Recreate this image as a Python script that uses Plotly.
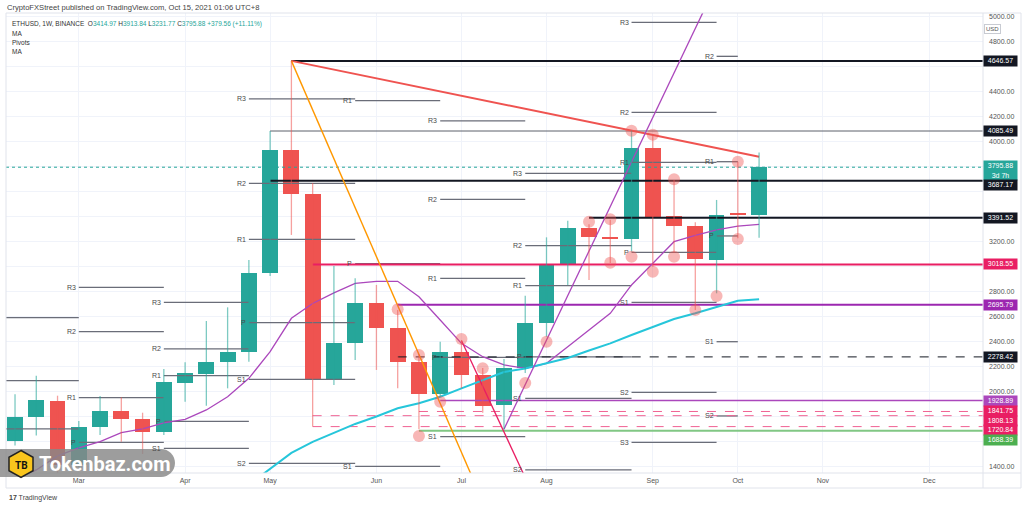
import plotly.graph_objects as go
import pandas as pd

# ------------------------------------------------------------------ data
candle_dates = pd.date_range("2021-02-08", periods=36, freq="7D")
opens = [1608, 1795, 1928, 1416, 1720, 1846, 1779, 1680, 2072, 2142, 2235, 2320,
         2947, 3934, 3582, 2094, 2387, 2712, 2507, 2240, 1982, 2320, 2134, 1894,
         2187, 2552, 3014, 3312, 3240, 3222, 3953, 3406, 3328, 3056, 3419, 3414.97]
highs = [1979, 2128, 1968, 1766, 1966, 1955, 1832, 2182, 2235, 2566, 2675, 3054,
         4086, 4646.57, 3670, 3006, 2907, 2854, 2654, 2300, 2400, 2410, 2190, 2262,
         2768, 3235, 3368, 3340, 3375, 4090, 4060, 3693, 3355, 3534, 3840, 3913.84]
lows = [1570, 1650, 1300, 1400, 1654, 1600, 1502, 1654, 1920, 1888, 2027, 2240,
        2926, 3254, 1720.84, 2054, 2254, 2174, 2027, 1700, 1960, 2027, 1832, 1700,
        2150, 2440, 2854, 2894, 3030, 3120, 3000, 3112, 2654, 2787, 3227, 3231.77]
closes = [1800, 1933, 1416, 1720, 1846, 1779, 1680, 2075, 2147, 2240, 2320, 2947,
          3934, 3582, 2094, 2387, 2712, 2507, 2240, 1982, 2320, 2134, 1888, 2187,
          2552, 3014, 3312, 3240, 3222, 3953, 3400, 3328, 3062, 3416, 3414.97, 3795.88]

ma_purple = [1290, 1374, 1486, 1550, 1600, 1672, 1702, 1750, 1779, 1854, 1960, 2107,
             2320, 2587, 2706, 2790, 2867, 2883, 2883, 2760, 2574, 2387, 2280, 2214,
             2186, 2227, 2360, 2494, 2627, 2854, 3027, 3200, 3250, 3294, 3325, 3339]
ma_cyan = [None] * 11 + [1256, 1385, 1510, 1598, 1670, 1742, 1802, 1867, 1907, 1960,
                         2027, 2094, 2158, 2186, 2226, 2270, 2330, 2387, 2454, 2520,
                         2582, 2627, 2675, 2728, 2739]

mark_dates = ["2021-06-14", "2021-06-21", "2021-06-21", "2021-06-28", "2021-07-05",
              "2021-07-12", "2021-07-26", "2021-08-02", "2021-08-16", "2021-08-23",
              "2021-08-23", "2021-08-30", "2021-08-30", "2021-09-06", "2021-09-06",
              "2021-09-13", "2021-09-13", "2021-09-20", "2021-09-27", "2021-10-04",
              "2021-10-04"]
mark_prices = [2659, 2294, 1646, 1920, 2422, 2187, 2070, 2400, 3360, 3379, 3032,
               4088, 3080, 4056, 2960, 3699, 3080, 2654, 2766, 3840, 3222]

# monthly pivot periods
pivot_starts = ["2021-02-01", "2021-03-01", "2021-03-29", "2021-04-26", "2021-05-31",
                "2021-06-28", "2021-07-26", "2021-08-30", "2021-09-27"]
pivot_ends = ["2021-03-01", "2021-03-29", "2021-04-26", "2021-05-31", "2021-06-28",
              "2021-07-26", "2021-08-30", "2021-09-27", "2021-10-04"]
pivot_R3 = [None, 2835, 2715, 4342, None, 4166, 3747, 4955, None]
pivot_R2 = [2592, 2480, 2342, 3667, None, 3539, 3168, 4235, 4683]
pivot_R1 = [2088, 1952, 2128, 3219, 4328, 2907, 2848, 3835, 3840]
pivot_P = [1702, 1595, 1763, 2552, 3024, 2275, 2278, 3115, 3246]
pivot_S1 = [None, None, 1547, 2099, 1402, 1640, 1947, 2715, 2400]
pivot_S2 = [None, None, None, 1427, None, None, 1374, 1995, 1806]
pivot_S3 = [None, None, None, None, None, None, None, 1595, None]

# horizontal drawn levels
level_values = [4646.57, 4085.49, 3687.17, 3391.52, 3018.55, 2695.79, 2278.42,
                1928.89, 1841.75, 1808.13, 1720.84, 1688.39]
level_starts = ["2021-05-10", "2021-05-03", "2021-05-03", "2021-08-16", "2021-05-17",
                "2021-06-14", "2021-06-14", "2021-06-28", "2021-06-21", "2021-05-17",
                "2021-05-17", "2021-06-21"]
level_colors = ["#131722", "#5d606b", "#131722", "#131722", "#e91e63", "#9c27b0",
                "#131722", "#ab47bc", "#f06292", "#f06292", "#f06292", "#81c784"]
level_widths = [2, 1, 2, 2, 2, 2, 1, 1.5, 1, 1, 1, 2]
level_dash = ["solid", "solid", "solid", "solid", "solid", "solid", "dash",
              "solid", "dash", "dash", "dash", "solid"]
label_colors = ["#131722", "#131722", "#131722", "#131722", "#e91e63", "#9c27b0",
                "#131722", "#ab47bc", "#e91e63", "#e91e63", "#e91e63", "#4caf50"]

# trend lines (anchor points)
trend_red_x, trend_red_y = ["2021-05-10", "2021-10-11"], [4646.57, 3880]
trend_orange_x, trend_orange_y = ["2021-05-10", "2021-07-10"], [4646.57, 1235]
trend_purple_x, trend_purple_y = ["2021-07-19", "2021-09-23"], [1700, 5059]
trend_pink_x, trend_pink_y = ["2021-07-05", "2021-07-26"], [2410, 1312]

last_price = 3795.88
month_ticks = ["2021-03-01", "2021-04-05", "2021-05-03", "2021-06-07", "2021-07-05",
               "2021-08-02", "2021-09-06", "2021-10-04", "2021-11-01", "2021-12-06"]
month_names = ["Mar", "Apr", "May", "Jun", "Jul", "Aug", "Sep", "Oct", "Nov", "Dec"]
price_ticks = list(range(1400, 5001, 200))

# ------------------------------------------------------------------ geometry
W, H = 1024, 508
PL, PR, PT, PB = 6, 983, 13, 473
Y0, Y1 = 1349.6, 5029.6
anchor = pd.Timestamp("2021-03-01")
px_per_day = 3.037
X0 = anchor - pd.Timedelta(days=(78.8 - PL) / px_per_day)
X1 = anchor + pd.Timedelta(days=(PR - 78.8) / px_per_day)


def pxx(x):
    return (x - PL) / (PR - PL)


def pxy(y):
    return (PB - y) / (PB - PT)


def price_to_px(p):
    return PT + (Y1 - p) / (Y1 - Y0) * (PB - PT)


UP, DOWN = "#26a69a", "#ef5350"
FONT = "Liberation Sans"

fig = go.Figure()

# pivot lines
px_, py_, lab = [], [], []
for name, arr in [("R3", pivot_R3), ("R2", pivot_R2), ("R1", pivot_R1), ("P", pivot_P),
                  ("S1", pivot_S1), ("S2", pivot_S2), ("S3", pivot_S3)]:
    for s, e, v in zip(pivot_starts, pivot_ends, arr):
        if v is None:
            continue
        px_ += [s, e, None]
        py_ += [v, v, None]
        if pd.Timestamp(s) > X0:
            lab.append((s, v, name))
fig.add_trace(go.Scatter(x=px_, y=py_, mode="lines",
                         line=dict(color="#6a6d78", width=1.3), hoverinfo="skip"))

# horizontal drawn levels
for v, s, c, w, d in zip(level_values, level_starts, level_colors, level_widths, level_dash):
    fig.add_trace(go.Scatter(x=[s, X1], y=[v, v], mode="lines",
                             line=dict(color=c, width=w, dash=d), hoverinfo="skip"))

# last price dotted line
fig.add_trace(go.Scatter(x=[X0, X1], y=[last_price, last_price], mode="lines",
                         line=dict(color=UP, width=1, dash="dot"), hoverinfo="skip"))

# moving averages
fig.add_trace(go.Scatter(x=candle_dates, y=ma_purple, mode="lines",
                         line=dict(color="#ab47bc", width=1.3), hoverinfo="skip"))
fig.add_trace(go.Scatter(x=candle_dates, y=ma_cyan, mode="lines",
                         line=dict(color="#26c6da", width=2), hoverinfo="skip"))

# trend lines
for tx, ty, c, w in [(trend_red_x, trend_red_y, "#ef5350", 2),
                     (trend_orange_x, trend_orange_y, "#ff9800", 1.4),
                     (trend_purple_x, trend_purple_y, "#ab47bc", 1.3),
                     (trend_pink_x, trend_pink_y, "#e91e63", 1.3)]:
    fig.add_trace(go.Scatter(x=tx, y=ty, mode="lines", line=dict(color=c, width=w),
                             hoverinfo="skip"))

# candle wicks
for up in (True, False):
    wx, wy = [], []
    for d, o, h, l, c in zip(candle_dates, opens, highs, lows, closes):
        if (c >= o) == up:
            wx += [d, d, None]
            wy += [l, h, None]
    fig.add_trace(go.Scatter(x=wx, y=wy, mode="lines", hoverinfo="skip",
                             line=dict(color="rgba(38,166,154,0.6)" if up else "rgba(239,83,80,0.55)",
                                       width=1.3)))

# candle bodies
body_w = 5.2 * 24 * 3600 * 1000
fig.add_trace(go.Bar(
    x=candle_dates,
    y=[max(abs(c - o), 10) for o, c in zip(opens, closes)],
    base=[min(o, c) for o, c in zip(opens, closes)],
    width=[body_w] * len(opens),
    marker=dict(color=[UP if c >= o else DOWN for o, c in zip(opens, closes)],
                line=dict(width=0)),
    hoverinfo="skip"))

# pivot markers
fig.add_trace(go.Scatter(x=mark_dates, y=mark_prices, mode="markers",
                         marker=dict(size=12, color="rgba(239,83,80,0.42)"),
                         hoverinfo="skip"))

annotations = []
# pivot labels
for s, v, name in lab:
    annotations.append(dict(x=s, y=v, xref="x", yref="y", text=name, showarrow=False,
                            xanchor="right", yanchor="middle", xshift=-1,
                            font=dict(size=7, color="#4a4a4a", family=FONT)))

# right-axis value boxes with collision avoidance
boxes = [(last_price, UP, f"{last_price:.2f}<br>3d 7h", 6, 13)]
for v, c in zip(level_values, label_colors):
    boxes.append((v, c, f"{v:.2f}", 4.75, 4.75))
boxes.sort(key=lambda b: -b[0])
prev_bottom = -1e9
box_spans = []
for v, c, txt, up_ext, dn_ext in boxes:
    cy = price_to_px(v)
    if cy - up_ext < prev_bottom:
        cy = prev_bottom + up_ext
    prev_bottom = cy + dn_ext
    box_spans.append((cy - up_ext, cy + dn_ext))
    centre = cy + (dn_ext - up_ext) / 2
    annotations.append(dict(x=1, y=v, xref="paper", yref="y", text=txt, showarrow=False,
                            xanchor="left", yanchor="middle", xshift=0,
                            yshift=-(centre - price_to_px(v)),
                            width=33, height=up_ext + dn_ext, bgcolor=c, borderpad=0,
                            font=dict(size=7, color="white", family=FONT)))

# price tick labels hidden where a value box covers them
tick_text = []
for t in price_ticks:
    ty = price_to_px(t)
    covered = any(ty + 4 > a and ty - 4 < b for a, b in box_spans)
    tick_text.append("" if covered else f"{t:.2f}")

# USD box
annotations.append(dict(x=pxx(1000.5), y=pxy(23.7), xref="paper", yref="paper", text="USD",
                        showarrow=False, bordercolor="#c8cbd2", borderwidth=1, borderpad=1,
                        bgcolor="white", font=dict(size=6, color="#555", family=FONT)))

# header texts
annotations.append(dict(x=pxx(5), y=pxy(7), xref="paper", yref="paper",
                        text="CryptoFXStreet published on TradingView.com, Oct 15, 2021 01:06 UTC+8",
                        showarrow=False, xanchor="left", yanchor="middle",
                        font=dict(size=7.6, color="#444", family=FONT)))
teal = "#26a69a"
legend_txt = (f"ETHUSD, 1W, BINANCE  O<span style='color:{teal}'>3414.97</span> "
              f"H<span style='color:{teal}'>3913.84</span> "
              f"L<span style='color:{teal}'>3231.77</span> "
              f"C<span style='color:{teal}'>3795.88</span> "
              f"<span style='color:{teal}'>+379.56 (+11.11%)</span>")
for yy, txt in [(24, legend_txt), (33.3, "MA"), (42.7, "Pivots"), (51.7, "MA")]:
    annotations.append(dict(x=pxx(10), y=pxy(yy), xref="paper", yref="paper", text=txt,
                            showarrow=False, xanchor="left", yanchor="middle",
                            font=dict(size=6.5, color="#333", family=FONT)))

# TradingView footer
annotations.append(dict(x=pxx(7), y=pxy(498), xref="paper", yref="paper",
                        text="<b>17</b> TradingView", showarrow=False, xanchor="left",
                        yanchor="middle", font=dict(size=7, color="#444", family=FONT)))

# Tokenbaz watermark text
annotations.append(dict(x=pxx(21), y=pxy(465.5), xref="paper", yref="paper", text="<b>TB</b>",
                        showarrow=False, xanchor="center", yanchor="middle",
                        font=dict(size=10, color="#111", family="Roboto")))
annotations.append(dict(x=pxx(37), y=pxy(463.5), xref="paper", yref="paper",
                        text="<b>Tokenbaz.com</b>", showarrow=False, xanchor="left",
                        yanchor="middle", font=dict(size=20, color="white", family="Roboto")))

# shapes: frame, watermark
k = 0.5523
top, bot, right = 449, 477, 175
r = (bot - top) / 2
pill = (f"M {pxx(-2)},{pxy(top)} L {pxx(right - r)},{pxy(top)} "
        f"C {pxx(right - r + k * r)},{pxy(top)} {pxx(right)},{pxy(top + r - k * r)} {pxx(right)},{pxy(top + r)} "
        f"C {pxx(right)},{pxy(bot - r + k * r)} {pxx(right - r + k * r)},{pxy(bot)} {pxx(right - r)},{pxy(bot)} "
        f"L {pxx(-2)},{pxy(bot)} Z")
hx, hy, hw, hh = 21, 464, 12, 13.5
hexa = (f"M {pxx(hx)},{pxy(hy - hh)} L {pxx(hx + hw)},{pxy(hy - hh / 2)} "
        f"L {pxx(hx + hw)},{pxy(hy + hh / 2)} L {pxx(hx)},{pxy(hy + hh)} "
        f"L {pxx(hx - hw)},{pxy(hy + hh / 2)} L {pxx(hx - hw)},{pxy(hy - hh / 2)} Z")
frame_col = "#e0e3eb"
shapes = [
    dict(type="line", xref="paper", yref="paper", x0=pxx(PL), x1=pxx(1021), y0=pxy(PB), y1=pxy(PB),
         line=dict(color=frame_col, width=1), layer="above"),
    dict(type="line", xref="paper", yref="paper", x0=pxx(PL), x1=pxx(1021), y0=pxy(488), y1=pxy(488),
         line=dict(color=frame_col, width=1), layer="above"),
    dict(type="line", xref="paper", yref="paper", x0=pxx(PL), x1=pxx(1021), y0=pxy(PT), y1=pxy(PT),
         line=dict(color=frame_col, width=1), layer="above"),
    dict(type="line", xref="paper", yref="paper", x0=pxx(PR), x1=pxx(PR), y0=pxy(PT), y1=pxy(488),
         line=dict(color=frame_col, width=1), layer="above"),
    dict(type="line", xref="paper", yref="paper", x0=pxx(PL), x1=pxx(PL), y0=pxy(PT), y1=pxy(488),
         line=dict(color=frame_col, width=1), layer="above"),
    dict(type="line", xref="paper", yref="paper", x0=pxx(1021), x1=pxx(1021), y0=pxy(PT), y1=pxy(488),
         line=dict(color=frame_col, width=1), layer="above"),
    dict(type="path", xref="paper", yref="paper", path=pill,
         fillcolor="rgba(135,135,135,0.82)", line=dict(width=0), layer="above"),
    dict(type="path", xref="paper", yref="paper", path=hexa,
         fillcolor="#f9c51d", line=dict(color="#222", width=1.5), layer="above"),
]

fig.update_layout(
    width=W, height=H,
    margin=dict(l=PL, r=W - PR, t=PT, b=H - PB),
    paper_bgcolor="white", plot_bgcolor="white",
    showlegend=False, bargap=0, barmode="overlay",
    annotations=annotations, shapes=shapes,
    xaxis=dict(type="date", range=[X0, X1], tickvals=month_ticks, ticktext=month_names,
               showgrid=True, gridcolor="#f0f3fa", gridwidth=1, zeroline=False,
               ticks="", ticklabelstandoff=2,
               tickfont=dict(size=7, color="#555", family=FONT),
               showline=False, fixedrange=True, rangeslider=dict(visible=False)),
    yaxis=dict(side="right", range=[Y0, Y1], tickvals=price_ticks, ticktext=tick_text,
               showgrid=True, gridcolor="#f0f3fa", gridwidth=1, zeroline=False,
               ticks="", ticklabelstandoff=5,
               tickfont=dict(size=7, color="#555", family=FONT),
               showline=False, fixedrange=True),
)

fig.write_html("out.html")
